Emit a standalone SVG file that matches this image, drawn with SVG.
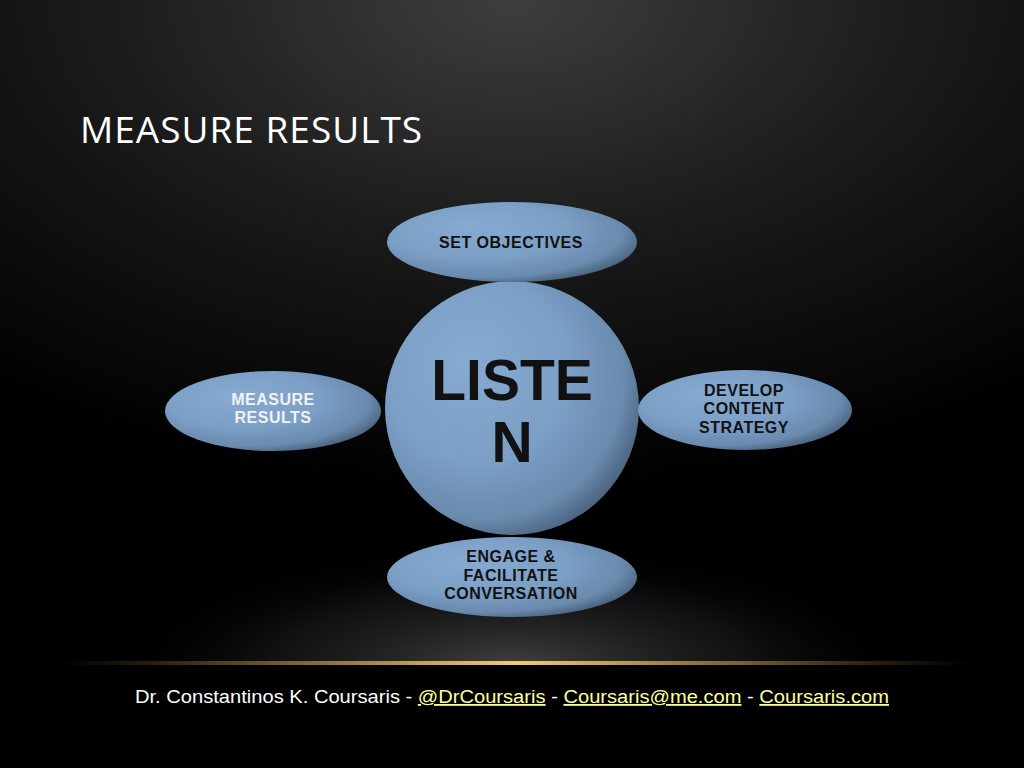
<svg xmlns="http://www.w3.org/2000/svg" width="1024" height="768" viewBox="0 0 1024 768">
<defs>
<radialGradient id="bg" cx="512" cy="0" r="700" gradientUnits="userSpaceOnUse" gradientTransform="translate(512 0) scale(1.2 0.7) translate(-512 0)">
<stop offset="0" stop-color="#3e3e3e"/>
<stop offset="0.5" stop-color="#1a1a1a"/>
<stop offset="1" stop-color="#000"/>
</radialGradient>
<radialGradient id="glow" cx="512" cy="665" r="400" gradientUnits="userSpaceOnUse" gradientTransform="translate(512 665) scale(1 0.3) translate(-512 -665)">
<stop offset="0" stop-color="#505050" stop-opacity="0.8"/>
<stop offset="0.6" stop-color="#262626" stop-opacity="0.45"/>
<stop offset="1" stop-color="#000" stop-opacity="0"/>
</radialGradient>
<linearGradient id="line" x1="60" y1="0" x2="970" y2="0" gradientUnits="userSpaceOnUse">
<stop offset="0" stop-color="#c08a3a" stop-opacity="0"/>
<stop offset="0.5" stop-color="#f5c879"/>
<stop offset="1" stop-color="#c08a3a" stop-opacity="0"/>
</linearGradient>
<radialGradient id="blue" cx="0.4" cy="0.4" r="0.72" fx="0.32" fy="0.3">
<stop offset="0" stop-color="#87aad2"/>
<stop offset="0.5" stop-color="#7c9fc6"/>
<stop offset="0.78" stop-color="#6a8aae"/>
<stop offset="1" stop-color="#34475e"/>
</radialGradient>
<style>
.shape{fill:url(#blue)}
.lbl{font-family:"Liberation Sans",Arial,sans-serif;font-size:16px;font-weight:bold;letter-spacing:0.5px;text-anchor:middle;fill:#111}
.wlbl{font-family:"Liberation Sans",Arial,sans-serif;font-size:16px;font-weight:bold;letter-spacing:0.5px;text-anchor:middle;fill:#f2f2f2}
.big{font-family:"Liberation Sans",Arial,sans-serif;font-size:57px;font-weight:bold;text-anchor:middle;fill:#111}
.foot{font-family:"Liberation Sans",Arial,sans-serif;font-size:18px;fill:#fff}
.link{fill:#ffff99;text-decoration:underline}
</style>
</defs>
<rect width="1024" height="768" fill="url(#bg)"/>
<rect x="0" y="520" width="1024" height="145" fill="url(#glow)"/>
<rect x="60" y="661" width="910" height="4" fill="url(#line)"/>
<text x="80" y="143" font-family="'Open Sans','Liberation Sans',sans-serif" font-size="37" letter-spacing="1" fill="#fff">MEASURE RESULTS</text>
<g id="connectors"/>
<g id="node-listen">
<circle class="shape" cx="512" cy="408" r="127"/>
<text class="big" x="512" y="400">LISTE</text>
<text class="big" x="512" y="462">N</text>
</g>
<g id="node-set-objectives">
<ellipse class="shape" cx="512" cy="242" rx="125" ry="40"/>
<text class="lbl" x="511" y="248">SET OBJECTIVES</text>
</g>
<g id="node-measure-results">
<ellipse class="shape" cx="273" cy="411" rx="108" ry="40"/>
<text class="wlbl" x="273" y="405">MEASURE</text>
<text class="wlbl" x="273" y="423">RESULTS</text>
</g>
<g id="node-develop">
<ellipse class="shape" cx="745" cy="410" rx="107" ry="40"/>
<text class="lbl" x="744" y="396">DEVELOP</text>
<text class="lbl" x="744" y="414">CONTENT</text>
<text class="lbl" x="744" y="433">STRATEGY</text>
</g>
<g id="node-engage">
<ellipse class="shape" cx="512" cy="577" rx="125" ry="40"/>
<text class="lbl" x="511" y="562">ENGAGE &amp;</text>
<text class="lbl" x="511" y="581">FACILITATE</text>
<text class="lbl" x="511" y="599">CONVERSATION</text>
</g>
<text class="foot" x="135" y="703" textLength="754" lengthAdjust="spacingAndGlyphs">Dr. Constantinos K. Coursaris - <tspan class="link">@DrCoursaris</tspan> -  <tspan class="link">Coursaris@me.com</tspan> - <tspan class="link">Coursaris.com</tspan></text>
</svg>
